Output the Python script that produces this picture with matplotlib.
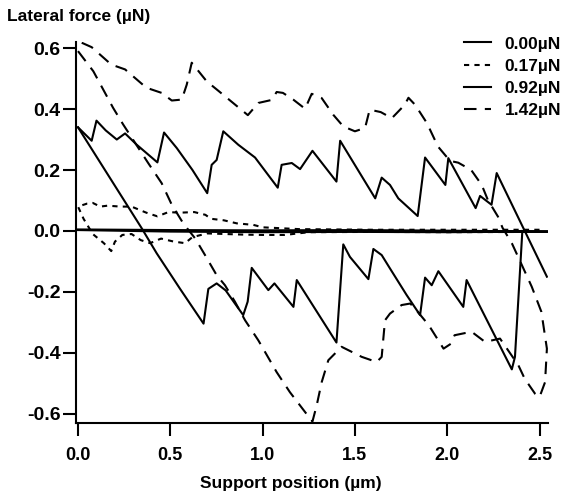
import matplotlib
matplotlib.use("Agg")
import matplotlib.pyplot as plt

plt.rcParams['font.family'] = ['Liberation Sans', 'DejaVu Sans']
plt.rcParams['font.weight'] = 'bold'

# 0.00 uN - flat trace/retrace near zero
x_000 = [0.0, 0.5, 1.0, 1.5, 2.0, 2.546, 2.0, 1.5, 1.0, 0.5, 0.0]
y_000 = [0.005, 0.003, 0.002, 0.003, 0.001, -0.002, -0.004, -0.003, -0.004, -0.002, 0.003]

# 0.17 uN - small loop near zero
x_017 = [2.50, 1.6, 1.2, 1.0, 0.95, 0.86, 0.79, 0.72, 0.69, 0.63, 0.55, 0.49, 0.43, 0.37, 0.33,
         0.29, 0.23, 0.16, 0.12, 0.08, 0.05, 0.0,
         0.03, 0.08, 0.14, 0.18, 0.20, 0.24, 0.29, 0.34, 0.39, 0.45, 0.52, 0.58, 0.62, 0.70,
         0.80, 0.90, 1.0, 1.12, 1.25, 1.6, 2.0, 2.5]
y_017 = [0.004, 0.004, 0.006, 0.012, 0.02, 0.025, 0.035, 0.04, 0.053, 0.062, 0.06, 0.062, 0.048, 0.06, 0.07,
         0.08, 0.08, 0.083, 0.08, 0.092, 0.09, 0.08,
         0.04, -0.01, -0.04, -0.066, -0.035, -0.013, -0.01, -0.03, -0.04, -0.025, -0.035, -0.04, -0.02, -0.008,
         -0.01, -0.012, -0.013, -0.013, -0.004, -0.003, -0.004, -0.003]

# 0.92 uN - forward (upper) and backward (lower) branch
x_092_up = [0.0, 0.074, 0.10, 0.15, 0.21, 0.255, 0.318, 0.43, 0.466, 0.535, 0.62, 0.70, 0.724, 0.751,
            0.787, 0.868, 0.959, 1.082, 1.103, 1.158, 1.203, 1.27, 1.40, 1.42, 1.61, 1.645, 1.69,
            1.735, 1.84, 1.88, 1.99, 2.006, 2.154, 2.178, 2.24, 2.268, 2.42, 2.54]
y_092_up = [0.34, 0.296, 0.362, 0.33, 0.30, 0.32, 0.283, 0.225, 0.323, 0.272, 0.20, 0.124, 0.217, 0.233,
            0.327, 0.283, 0.241, 0.142, 0.217, 0.223, 0.203, 0.263, 0.162, 0.296, 0.107, 0.175, 0.151,
            0.107, 0.049, 0.241, 0.151, 0.239, 0.075, 0.115, 0.086, 0.19, 0.0, -0.15]
x_092_lo = [0.0, 0.345, 0.426, 0.553, 0.68, 0.706, 0.751, 0.80, 0.85, 0.895, 0.919, 0.941, 1.031,
            1.064, 1.167, 1.185, 1.40, 1.437, 1.473, 1.573, 1.60, 1.645, 1.69, 1.78, 1.853, 1.88,
            1.916, 1.952, 2.087, 2.105, 2.35, 2.367, 2.407]
y_092_lo = [0.34, 0.009, -0.073, -0.19, -0.304, -0.19, -0.172, -0.195, -0.238, -0.276, -0.232, -0.121, -0.194,
            -0.172, -0.249, -0.161, -0.366, -0.044, -0.085, -0.158, -0.059, -0.079, -0.123, -0.21, -0.276, -0.153,
            -0.178, -0.132, -0.249, -0.161, -0.454, -0.413, 0.0]

# 1.42 uN - full loop
x_142 = [0.0, 0.083, 0.19, 0.245, 0.38, 0.453, 0.508, 0.57, 0.634, 0.688, 0.751, 0.796, 0.85, 0.905,
         0.977, 1.076, 1.148, 1.23, 1.27, 1.293, 1.32, 1.356, 1.428, 1.537, 1.618, 1.645, 1.663,
         1.69, 1.753, 1.80, 1.84, 1.90, 1.98, 2.02, 2.04, 2.096, 2.133, 2.205, 2.286, 2.385, 2.42,
         2.476, 2.50, 2.53, 2.54, 2.51, 2.458, 2.40, 2.35, 2.30, 2.275, 2.22, 2.187, 2.13, 2.06,
         2.015, 1.95, 1.89, 1.826, 1.79, 1.77, 1.70, 1.64, 1.58, 1.555, 1.50, 1.437, 1.383, 1.32,
         1.266, 1.23, 1.166, 1.11, 1.076, 1.05, 0.977, 0.92, 0.82, 0.76, 0.697, 0.616, 0.589, 0.562,
         0.508, 0.453, 0.37, 0.255, 0.18, 0.074, 0.0]
y_142 = [0.59, 0.524, 0.404, 0.349, 0.223, 0.157, 0.086, 0.025, -0.024, -0.079, -0.145, -0.178, -0.232, -0.293,
         -0.359, -0.463, -0.529, -0.594, -0.625, -0.572, -0.496, -0.424, -0.38, -0.413, -0.43, -0.413, -0.293,
         -0.271, -0.243, -0.238, -0.265, -0.309, -0.386, -0.37, -0.342, -0.335, -0.331, -0.364, -0.353, -0.44, -0.485,
         -0.534, -0.545, -0.496, -0.386, -0.265, -0.183, -0.106, -0.04, 0.01, 0.047, 0.102, 0.151, 0.2, 0.224,
         0.23, 0.277, 0.354, 0.414, 0.437, 0.414, 0.37, 0.39, 0.398, 0.338, 0.327, 0.343, 0.381, 0.436,
         0.45, 0.401, 0.431, 0.453, 0.456, 0.43, 0.42, 0.38, 0.43, 0.46, 0.491, 0.552, 0.48, 0.431,
         0.428, 0.453, 0.47, 0.53, 0.546, 0.603, 0.623]

labels = ["0.00µN", "0.17µN", "0.92µN", "1.42µN"]
xticks = [0.0, 0.5, 1.0, 1.5, 2.0, 2.5]
yticks = [-0.6, -0.4, -0.2, 0.0, 0.2, 0.4, 0.6]

fig = plt.figure(figsize=(5.62, 4.94), dpi=100)
ax = fig.add_axes([0.1352, 0.1437, 0.8399, 0.7713])

lw = 1.5
ax.plot(x_000, y_000, color="black", lw=lw, label=labels[0])
ax.plot(x_017, y_017, color="black", lw=lw, dashes=(2.5, 2.5), label=labels[1])
ax.plot(x_092_up, y_092_up, color="black", lw=lw, label=labels[2])
ax.plot(x_092_lo, y_092_lo, color="black", lw=lw)
ax.plot(x_142, y_142, color="black", lw=lw, dashes=(6, 4), label=labels[3])

ax.set_xlim(-0.011, 2.546)
ax.set_ylim(-0.63, 0.62)
ax.set_xticks(xticks)
ax.set_yticks(yticks)
ax.set_xticklabels(["%.1f" % v for v in xticks])
ax.set_yticklabels(["%.1f" % v if v != 0 else "0.0" for v in yticks])

for s in ["top", "right"]:
    ax.spines[s].set_visible(False)
for s in ["left", "bottom"]:
    ax.spines[s].set_linewidth(1.5)

ax.tick_params(axis="both", direction="out", length=9.5, width=1.5)
ax.tick_params(axis="x", pad=7.5, labelsize=13)
ax.tick_params(axis="y", pad=1.5, labelsize=14)

ax.set_xlabel("Support position (µm)", fontsize=12.5, fontweight="bold")
ax.xaxis.set_label_coords(0.455, -0.14)
fig.text(7 / 562, 1 - 16 / 494, "Lateral force (µN)", fontsize=12.5, fontweight="bold",
         ha="left", va="center")

leg = ax.legend(loc="upper right", bbox_to_anchor=(1.042, 1.033), frameon=False, fontsize=12.5,
                handlelength=1.55, handletextpad=0.75, labelspacing=0.4, borderaxespad=0.0)
for t in leg.get_texts():
    t.set_fontweight("bold")

fig.savefig("out.png", dpi=100)
